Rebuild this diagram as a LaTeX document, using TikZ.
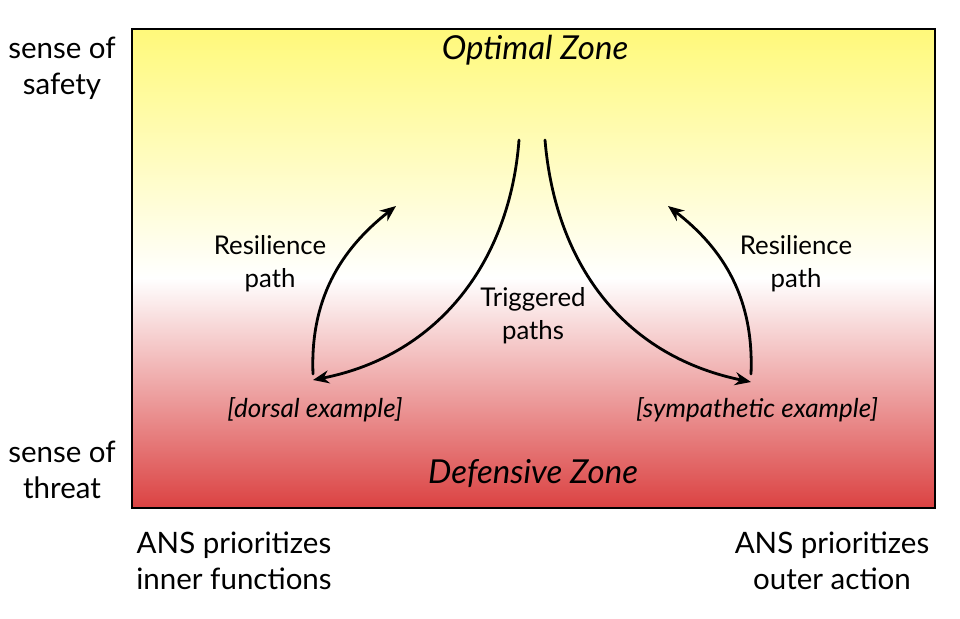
\documentclass[tikz,border=0pt]{standalone}
\usepackage{fontspec}
\setmainfont{Lato}
\usetikzlibrary{arrows.meta}
\definecolor{zyellow}{RGB}{255,249,122}
\definecolor{zred}{RGB}{219,66,66}
\pgfdeclareverticalshading{zones}{100bp}{color(0bp)=(zred); color(25bp)=(zred); color(49bp)=(white); color(75bp)=(zyellow); color(100bp)=(zyellow)}
\begin{document}
\begin{tikzpicture}[x=1pt,y=-1pt,
  side/.style={align=center,font=\fontsize{29.5}{36}\selectfont},
  zone/.style={font=\fontsize{33}{38}\selectfont\itshape},
  lbl/.style={align=center,font=\fontsize{25.8}{33}\selectfont},
  ex/.style={font=\fontsize{26}{30}\selectfont\itshape},
  curve/.style={line width=2.8pt,line cap=round},
  tip/.style={-{Stealth[length=16pt,width=13pt]}}]
\useasboundingbox (0,0) rectangle (960,618);
\fill[shading=zones] (132,29) rectangle (935,508);
\draw[line width=2.6pt] (132,29) rectangle (935,508);
\node[side] (safety) at (62,68) {sense of\\safety};
\node[side] (threat) at (62,470) {sense of\\threat};
\node[zone] (opt) at (535,50) {Optimal Zone};
\node[zone] (def) at (533,474) {Defensive Zone};
\node[lbl] (resl) at (270,264) {Resilience\\path};
\node[lbl] (resr) at (796,264) {Resilience\\path};
\node[lbl] (trig) at (533,316) {Triggered\\paths};
\node[ex] (dors) at (315,410) {[dorsal example]};
\node[ex] (symp) at (757,410) {[sympathetic example]};
\node[side] (inner) at (234,561) {ANS prioritizes\\inner functions};
\node[side] (outer) at (832,561) {ANS prioritizes\\outer action};
\coordinate (tl) at (519,140);
\coordinate (tr) at (545,140);
\coordinate (dl) at (313,380);
\coordinate (dr) at (751,382);
\coordinate (rl0) at (313,374);
\coordinate (rl1) at (396,206);
\coordinate (rr0) at (751,374);
\coordinate (rr1) at (668,206);
\draw[curve,tip] (tl) .. controls (510,260) and (440,355) .. (dl);
\draw[curve,tip] (tr) .. controls (555,260) and (620,355) .. (dr);
\draw[curve,tip] (rl0) .. controls (310,300) and (340,250) .. (rl1);
\draw[curve,tip] (rr0) .. controls (754,300) and (725,250) .. (rr1);
\end{tikzpicture}
\end{document}
